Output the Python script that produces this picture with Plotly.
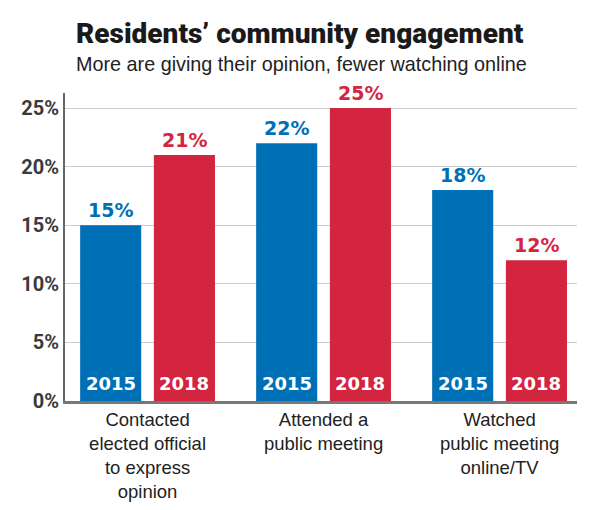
import plotly.graph_objects as go

categories = ["Contacted<br>elected official<br>to express<br>opinion",
              "Attended a<br>public meeting",
              "Watched<br>public meeting<br>online/TV"]
years = ["2015", "2018"]
values_2015 = [15, 22, 18]
values_2018 = [21, 25, 12]
y_ticks = [0, 5, 10, 15, 20, 25]
y_tick_labels = ["0%", "5%", "10%", "15%", "20%", "25%"]

BLUE = "#0070b6"
RED = "#d42540"
WIDE_BOLD = "DejaVu Sans"
SANS = "Liberation Sans, Arial, sans-serif"

# page has an 8px body margin: figure is drawn 8px in from the top-left
OFF = 8
FW, FH = 600 - OFF, 510 - OFF
L, R, T, B = 65 - OFF, 23, 93 - OFF, 109
PH = FH - T - B
PW = FW - L - R

def py(pix):
    return (FH - B - (pix - OFF)) / PH

def px(pix):
    return ((pix - OFF) - L) / PW

xs = list(range(len(categories)))
W = 0.347
offsets = {"2015": -0.383, "2018": 0.036}
series = {"2015": values_2015, "2018": values_2018}
colors = {"2015": BLUE, "2018": RED}

fig = go.Figure()
annotations = []
for yr in years:
    vals = series[yr]
    fig.add_trace(go.Bar(
        x=xs, y=vals, width=[W] * len(xs), offset=[offsets[yr]] * len(xs),
        marker=dict(color=colors[yr], line=dict(width=0)), name=yr,
        showlegend=False, hoverinfo="skip"))
    for x, v in zip(xs, vals):
        cx = x + offsets[yr] + W / 2
        annotations.append(dict(x=cx, y=v, xref="x", yref="y", text=f"{v}%",
                                showarrow=False, yanchor="bottom", yshift=2,
                                font=dict(family=WIDE_BOLD, size=19, color=colors[yr], weight="bold")))
        annotations.append(dict(x=cx, y=0, xref="x", yref="y", text=yr,
                                showarrow=False, yanchor="bottom", yshift=5,
                                font=dict(family=WIDE_BOLD, size=18, color="white", weight="bold")))

annotations.append(dict(x=px(300), y=py(33), xref="paper", yref="paper",
                        text="Residents’ community engagement",
                        showarrow=False, xanchor="center", yanchor="middle",
                        font=dict(family="Roboto", size=28, color="#1a1a1a", weight=900)))
annotations.append(dict(x=px(301), y=py(64), xref="paper", yref="paper",
                        text="More are giving their opinion, fewer watching online",
                        showarrow=False, xanchor="center", yanchor="middle",
                        font=dict(family=SANS, size=19.8, color="#222222")))

fig.update_layout(
    width=FW, height=FH,
    margin=dict(l=L, r=R, t=T, b=B),
    paper_bgcolor="white", plot_bgcolor="white",
    annotations=annotations,
    xaxis=dict(range=[-0.469, 2.44], tickvals=xs, ticktext=categories,
               showline=True, linecolor="#777777", linewidth=3, ticks="",
               showgrid=False, zeroline=False, automargin=False,
               tickfont=dict(family=SANS, size=18.5, color="#222222")),
    yaxis=dict(range=[0, 26.28], tickvals=y_ticks, ticktext=y_tick_labels,
               showline=True, linecolor="#666666", linewidth=2, ticks="",
               gridcolor="#cccccc", gridwidth=1, zeroline=False, automargin=False,
               ticklabelstandoff=0,
               tickfont=dict(family="Roboto", size=20, color="#3a3a3a", weight="bold")),
)

fig.write_html("out.html")
